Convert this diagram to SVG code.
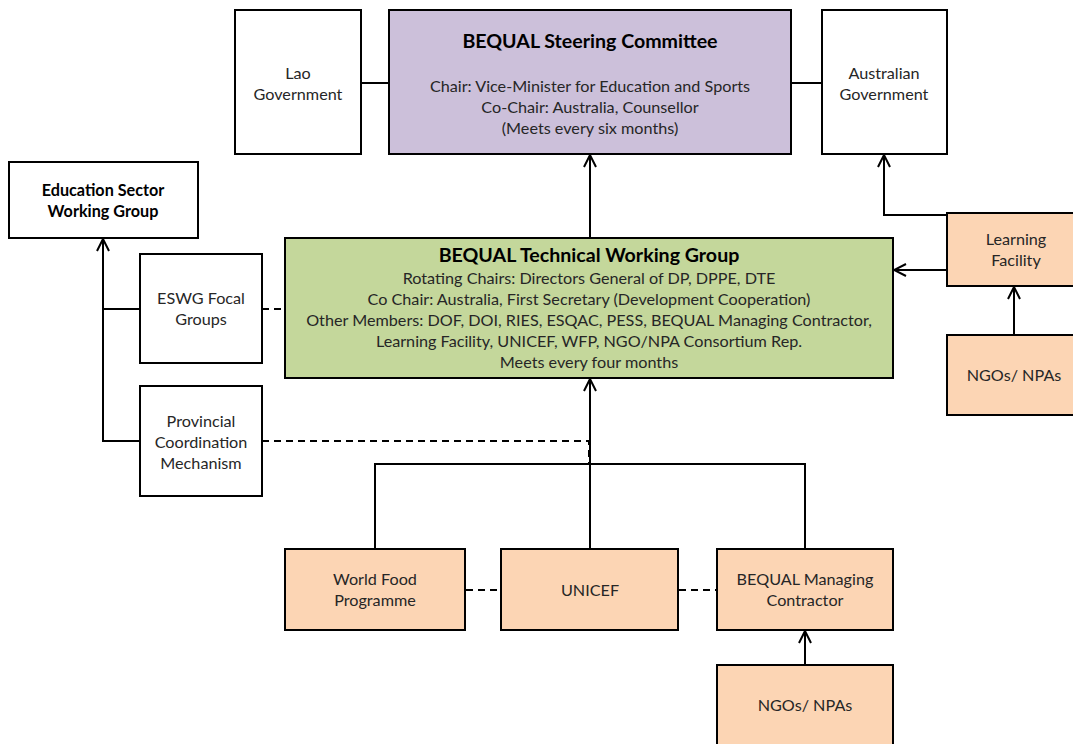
<svg xmlns="http://www.w3.org/2000/svg" width="1073" height="744" viewBox="0 0 1073 744">
<style>
.box{stroke:#000;stroke-width:2}
.w{fill:#fff}.p{fill:#CCC0DA}.g{fill:#C4D79B}.o{fill:#FCD5B4}
text{font-family:Lato,"Open Sans","Liberation Sans",sans-serif;font-size:16.2px;fill:#262626;text-anchor:middle}
.b{font-weight:bold;fill:#000}
.t{font-size:19.6px}
.c{fill:none;stroke:#000;stroke-width:2}
.d{fill:none;stroke:#000;stroke-width:2;stroke-dasharray:7 5}
</style>
<defs>
<marker id="a" viewBox="0 0 14 14" refX="13" refY="7" markerWidth="14" markerHeight="14" markerUnits="userSpaceOnUse" orient="auto">
<path d="M1,1 L13,7 L1,13" fill="none" stroke="#000" stroke-width="2"/>
</marker>
</defs>
<g id="connectors">
<line class="c" x1="361" y1="83" x2="389" y2="83"/>
<line class="c" x1="791" y1="83" x2="822" y2="83"/>
<line class="c" x1="590" y1="238" x2="590" y2="155" marker-end="url(#a)"/>
<line class="c" x1="947" y1="270" x2="894" y2="270" marker-end="url(#a)"/>
<polyline class="c" points="947,215 884,215 884,155" marker-end="url(#a)"/>
<line class="c" x1="1014" y1="335" x2="1014" y2="287" marker-end="url(#a)"/>
<polyline class="c" points="140,441 103,441 103,239" marker-end="url(#a)"/>
<line class="c" x1="103" y1="309" x2="140" y2="309"/>
<line class="d" x1="262" y1="309" x2="285" y2="309"/>
<polyline class="d" points="262,441 589,441 589,464"/>
<line class="c" x1="590" y1="549" x2="590" y2="379" marker-end="url(#a)"/>
<polyline class="c" points="375,549 375,464 805,464 805,549"/>
<line class="d" x1="466" y1="590" x2="501" y2="590"/>
<line class="d" x1="679" y1="590" x2="717" y2="590"/>
<line class="c" x1="805" y1="665" x2="805" y2="631" marker-end="url(#a)"/>
</g>
<g id="lao"><rect class="box w" x="235" y="10" width="126" height="144"/><text x="298" y="79">Lao</text><text x="298" y="100">Government</text></g>
<g id="steering"><rect class="box p" x="389" y="10" width="402" height="144"/>
<text class="b t" x="590" y="48">BEQUAL Steering Committee</text>
<text x="590" y="92">Chair: Vice-Minister for Education and Sports</text>
<text x="590" y="113">Co-Chair: Australia, Counsellor</text>
<text x="590" y="134">(Meets every six months)</text></g>
<g id="australia"><rect class="box w" x="822" y="10" width="125" height="144"/><text x="884" y="79">Australian</text><text x="884" y="100">Government</text></g>
<g id="eswg"><rect class="box w" x="9" y="162" width="189" height="76"/><text class="b" x="103" y="196">Education Sector</text><text class="b" x="103" y="217">Working Group</text></g>
<g id="focal"><rect class="box w" x="140" y="254" width="122" height="109"/><text x="201" y="304">ESWG Focal</text><text x="201" y="325">Groups</text></g>
<g id="provincial"><rect class="box w" x="140" y="386" width="122" height="110"/><text x="201" y="427">Provincial</text><text x="201" y="448">Coordination</text><text x="201" y="469">Mechanism</text></g>
<g id="twg"><rect class="box g" x="285" y="238" width="608" height="140"/>
<text class="b t" x="589" y="262">BEQUAL Technical Working Group</text>
<text x="589" y="284">Rotating Chairs: Directors General of DP, DPPE, DTE</text>
<text x="589" y="305">Co Chair: Australia, First Secretary (Development Cooperation)</text>
<text x="589" y="326">Other Members: DOF, DOI, RIES, ESQAC, PESS, BEQUAL  Managing Contractor,</text>
<text x="589" y="347">Learning Facility, UNICEF, WFP, NGO/NPA Consortium Rep.</text>
<text x="589" y="368">Meets every four months</text></g>
<g id="learning"><rect class="box o" x="947" y="213" width="130" height="73"/><text x="1016" y="245">Learning</text><text x="1016" y="266">Facility</text></g>
<g id="ngos-right"><rect class="box o" x="947" y="335" width="130" height="80"/><text x="1014" y="381">NGOs/ NPAs</text></g>
<g id="wfp"><rect class="box o" x="285" y="549" width="180" height="81"/><text x="375" y="585">World Food</text><text x="375" y="606">Programme</text></g>
<g id="unicef"><rect class="box o" x="501" y="549" width="177" height="81"/><text x="590" y="596">UNICEF</text></g>
<g id="bmc"><rect class="box o" x="717" y="549" width="176" height="81"/><text x="805" y="585">BEQUAL Managing</text><text x="805" y="606">Contractor</text></g>
<g id="ngos-bottom"><rect class="box o" x="717" y="665" width="176" height="82"/><text x="805" y="711">NGOs/ NPAs</text></g>
</svg>
